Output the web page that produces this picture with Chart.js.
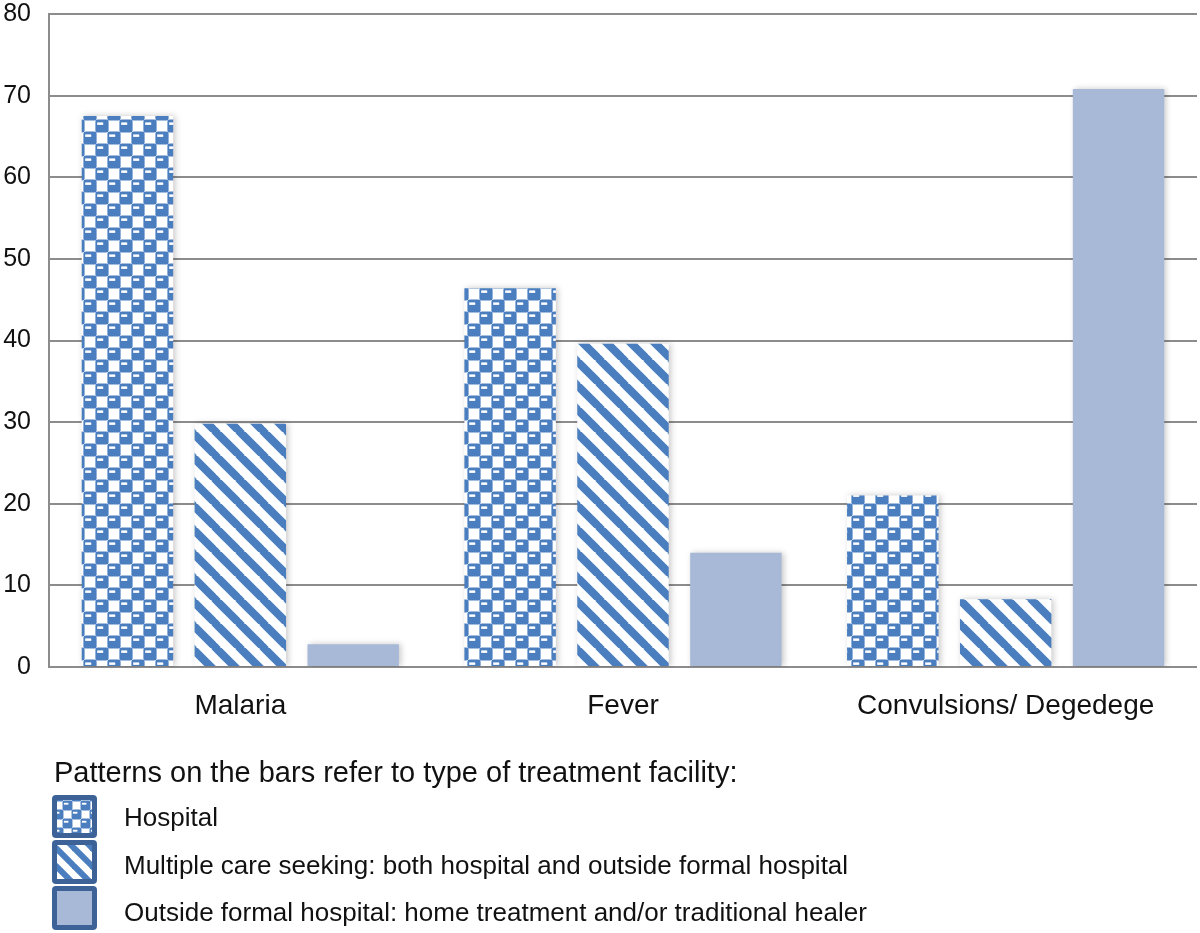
<!DOCTYPE html>
<html><head><meta charset="utf-8">
<script src="https://cdn.jsdelivr.net/npm/chart.js@4"></script>
<style>html,body{margin:0;padding:0;background:#fff}#wrap{width:1200px;height:933px;position:relative}</style>
</head><body><div id="wrap"><canvas id="c" width="1200" height="933"></canvas></div>
<script>
const categories = ['Malaria', 'Fever', 'Convulsions/ Degedege'];
const hospital = [67.5, 46.4, 21.0];
const multiple = [29.8, 39.6, 8.3];
const outside = [2.8, 14.0, 70.8];
const seriesLabels = ['Hospital', 'Multiple care seeking: both hospital and outside formal hospital', 'Outside formal hospital: home treatment and/or traditional healer'];
const yTicks = [0, 10, 20, 30, 40, 50, 60, 70, 80];
const legendTitle = 'Patterns on the bars refer to type of treatment facility:';

const BLUE = '#4a7ebf';
const LIGHT = '#a8b9d8';
const FONT = '"Liberation Sans", Arial, Helvetica, sans-serif';

function checkPattern(scale) {
  const s = Math.round(24 * scale);
  const c = document.createElement('canvas'); c.width = s; c.height = s;
  const x = c.getContext('2d');
  x.fillStyle = '#fff'; x.fillRect(0, 0, s, s);
  const h = s / 2;
  const blk = (cx, cy) => {
    x.fillStyle = BLUE;
    x.beginPath(); x.roundRect(cx - h * 0.55, cy - h * 0.55, h * 1.1, h * 1.1, h * 0.2); x.fill();
  };
  const dash = (cx, cy) => {
    x.fillStyle = '#fff';
    x.fillRect(cx - h * 0.4, cy - h * 0.3, h * 0.5, Math.max(1.5, 2.5 * scale));
  };
  const pts = [[h / 2, h / 2], [h / 2 + s, h / 2], [h / 2 - s, h / 2], [h / 2, h / 2 + s], [h / 2, h / 2 - s],
   [h * 1.5, h * 1.5], [h * 1.5 - s, h * 1.5], [h * 1.5, h * 1.5 - s], [h * 1.5 - s, h * 1.5 - s]];
  pts.forEach(p => blk(p[0], p[1]));
  pts.forEach(p => dash(p[0], p[1]));
  return c;
}
function stripePattern(scale) {
  const s = Math.round(24 * scale);
  const c = document.createElement('canvas'); c.width = s; c.height = s;
  const x = c.getContext('2d');
  x.fillStyle = '#fff'; x.fillRect(0, 0, s, s);
  x.strokeStyle = BLUE; x.lineWidth = 8 * scale;
  for (let k = -1; k <= 1; k++) {
    x.beginPath(); x.moveTo(k * s - 2, -2); x.lineTo(k * s + s + 2, s + 2); x.stroke();
  }
  return c;
}
const ctx0 = document.getElementById('c').getContext('2d');
const patCheck = ctx0.createPattern(checkPattern(1), 'repeat');
const patStripe = ctx0.createPattern(stripePattern(1), 'repeat');
const patCheckSmall = ctx0.createPattern(checkPattern(0.75), 'repeat');
const patStripeSmall = ctx0.createPattern(stripePattern(0.75), 'repeat');

const shadowPlugin = {
  id: 'shadow',
  beforeDatasetsDraw(chart) {
    const c = chart.ctx; c.save();
    c.shadowColor = 'rgba(0,0,0,0.22)'; c.shadowBlur = 6; c.shadowOffsetX = 2; c.shadowOffsetY = 0;
  },
  afterDatasetsDraw(chart) { chart.ctx.restore(); }
};

const legendPlugin = {
  id: 'customLegend',
  afterDraw(chart) {
    const c = chart.ctx; c.save();
    c.fillStyle = '#111'; c.textBaseline = 'middle'; c.textAlign = 'left';
    c.font = '29px ' + FONT;
    c.fillText(legendTitle, 54, 774);
    c.font = '26px ' + FONT;
    const fills = [patCheckSmall, patStripeSmall, LIGHT];
    const boxes = [[52, 795, 45, 43], [52, 840, 45, 44], [52, 886, 45, 44]];
    const textY = [819, 867, 914];
    chart.data.datasets.forEach((ds, i) => {
      const [bx, by, bw, bh] = boxes[i];
      c.fillStyle = '#3c6298';
      c.beginPath(); c.roundRect(bx, by, bw, bh, 4); c.fill();
      c.fillStyle = fills[i];
      c.fillRect(bx + 5, by + 5, bw - 10, bh - 10);
      c.fillStyle = '#111';
      c.fillText(ds.label, 124, textY[i]);
    });
    c.restore();
  }
};

new Chart(document.getElementById('c'), {
  type: 'bar',
  data: {
    labels: categories,
    datasets: [
      { label: seriesLabels[0], data: hospital, backgroundColor: patCheck, borderWidth: 0 },
      { label: seriesLabels[1], data: multiple, backgroundColor: patStripe, borderWidth: 0 },
      { label: seriesLabels[2], data: outside, backgroundColor: LIGHT, borderWidth: 0 }
    ]
  },
  options: {
    responsive: false, animation: false, devicePixelRatio: 1,
    layout: { padding: { top: 14, right: 3, bottom: 206, left: 0 } },
    datasets: { bar: { categoryPercentage: 0.885, barPercentage: 0.81 } },
    plugins: { legend: { display: false }, tooltip: { enabled: false } },
    scales: {
      x: {
        grid: { display: false, drawTicks: false },
        border: { display: false },
        ticks: { color: '#111', font: { size: 28, family: FONT }, padding: 22, maxRotation: 0 },
        afterFit(s) { s.height = 60; s.paddingLeft = 0; s.paddingRight = 0; }
      },
      y: {
        min: 0, max: 80,
        afterBuildTicks(s) { s.ticks = yTicks.map(v => ({ value: v })); },
        grid: { color: '#8c8c8c', lineWidth: 2, drawTicks: false },
        border: { display: true, color: '#8c8c8c', width: 2 },
        ticks: { color: '#111', font: { size: 25, family: FONT }, padding: 18 },
        afterFit(s) { s.width = 49; s.paddingTop = 0; s.paddingBottom = 0; }
      }
    }
  },
  plugins: [shadowPlugin, legendPlugin]
});
</script></body></html>
